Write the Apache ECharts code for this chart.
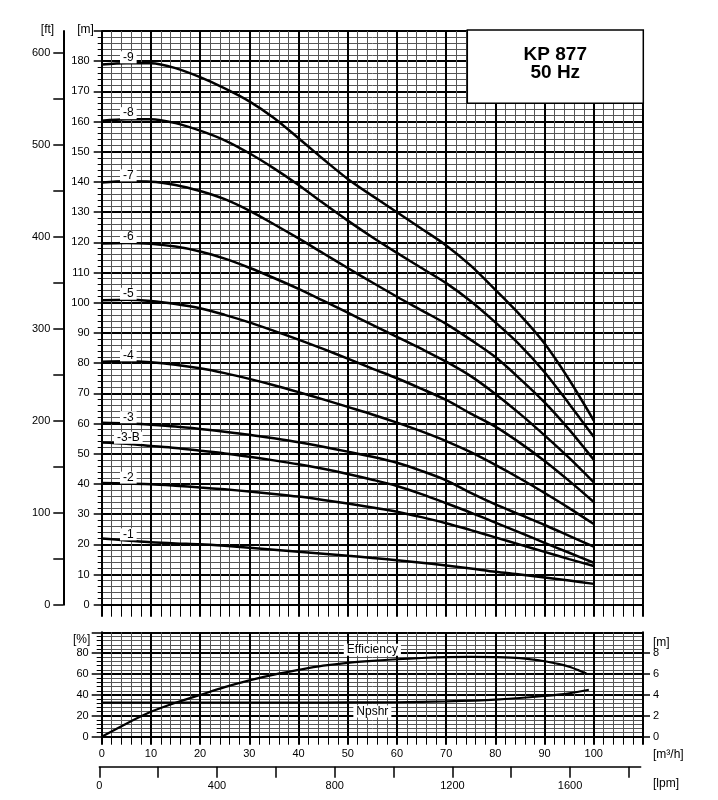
<!DOCTYPE html>
<html><head><meta charset="utf-8">
<script src="https://cdn.jsdelivr.net/npm/echarts@6/dist/echarts.min.js"></script>
<style>html,body{margin:0;padding:0;background:#fff}#c{width:718px;height:800px}</style>
</head><body><div id="c"></div>
<script>
// ---- data ----
const flowQ = [0,5,10,15,20,25,30,35,40,45,50,55,60,65,70,75,80,85,90,95,100]; // m3/h
const head9  = [178.9,179.3,179.3,177.7,174.7,171,166.7,161.2,154.5,147.6,141,135.4,130,124.5,119,112.3,104.3,96,86.5,74.5,61];
const head8  = [160.3,160.8,160.8,159.5,157,153.8,149.5,144.5,139,133,127.2,121.7,116.5,111.5,106.5,100.5,93.5,86,77,66.5,55.6];
const head7  = [139.8,140.2,140.1,139,137,134.3,130.5,126,121.3,116.4,111.5,106.7,102,97.5,93,87.7,82,74.8,67,58,48];
const head6  = [119.6,119.8,119.5,118.6,117,114.6,111.6,108.2,104.6,100.7,96.7,92.7,88.7,84.7,80.5,75.7,69.8,63.2,56.1,48.6,40.5];
const head5  = [100.8,101,100.6,99.6,98.2,96,93.5,90.7,87.8,84.7,81.5,78.2,75,71.5,67.8,63.3,59,53.6,47.6,41,34];
const head4  = [80.5,80.6,80.3,79.5,78.3,76.7,74.8,72.7,70.4,68,65.5,63,60.3,57.4,54.2,50.5,46.3,41.8,37,32,26.7];
const head3  = [60.3,60.1,59.6,59,58.2,57.3,56.3,55.1,53.8,52.3,50.7,49,47,44.3,41.2,37,33.2,29.8,26.4,22.8,19.2];
const head3B = [53.7,53.3,52.6,51.9,51,50.1,49,47.8,46.5,45,43.3,41.4,39.3,36.6,33.6,30.5,27.2,23.9,20.5,17.2,13.9];
const head2  = [40.3,40.1,39.9,39.4,38.8,38.2,37.5,36.7,35.8,34.7,33.5,32.2,30.8,29,27,24.7,22.3,19.9,17.5,15.1,12.8];
const head1  = [21.9,21.3,20.7,20.3,20,19.5,18.9,18.2,17.5,16.9,16.2,15.5,14.7,13.9,13,12,10.9,10,9,8,6.9];
const curveNames = ['-9','-8','-7','-6','-5','-4','-3','-3-B','-2','-1'];

const effQ    = [0,5,10,15,20,25,30,35,40,45,50,55,60,65,70,75,80,85,90,93,95,97,98.5];
const effVals = [0,12.5,23.8,32.5,40,47.5,54,59.5,64,68,70.8,72.7,74.2,75.4,76.2,76.5,76.2,75.2,72.3,69.5,67,63.5,60.5]; // %
const npshQ    = [0,10,20,30,40,50,60,70,80,90,95,99];
const npshVals = [3.27,3.27,3.27,3.27,3.27,3.28,3.3,3.38,3.55,3.9,4.15,4.5]; // m

const ftTicks  = [0,50,100,150,200,250,300,350,400,450,500,550,600];
const ftLabels = [0,100,200,300,400,500,600];
const lpmTicks  = [0,200,400,600,800,1000,1200,1400,1600,1800];
const lpmLabels = [0,400,800,1200,1600];
const npshTicks = [0,2,4,6,8];

// ---- chart ----
const FONT = 'Liberation Sans, Arial, Helvetica, sans-serif';
const chart = echarts.init(document.getElementById('c'), null, {renderer:'canvas'});
const heads = [head9, head8, head7, head6, head5, head4, head3, head3B, head2, head1];

const black = '#000', minorCol = '#555';
const txt = {color:'#000', fontSize:11, fontFamily:FONT};
const tagTxt = {color:'#000', fontSize:12, fontFamily:FONT, opacity:1};
const hiddenItem = {color:'transparent', opacity:1};

const series = heads.map((h) => ({
  type:'line', xAxisIndex:0, yAxisIndex:0, silent:true,
  data: flowQ.map((q, j) => [q, h[j]]),
  showSymbol:false, symbol:'none', smooth:0.3, z:3,
  lineStyle:{color:black, width:2.5}
}));
series.push({
  type:'scatter', xAxisIndex:0, yAxisIndex:0, silent:true, symbolSize:1, z:10,
  itemStyle:hiddenItem,
  data: heads.map((h, i) => ({name: curveNames[i], value:[flowQ[1], h[1]]})),
  label:{show:true, formatter:'{b}', position:'inside', offset:[2,-6],
         backgroundColor:'#fff', padding:[0,3], ...tagTxt}
});
series.push({
  type:'line', xAxisIndex:1, yAxisIndex:2, silent:true,
  data: effQ.map((q, j) => [q, effVals[j]]),
  showSymbol:false, symbol:'none', smooth:0.3, z:3,
  lineStyle:{color:black, width:2.2}
});
series.push({
  type:'line', xAxisIndex:1, yAxisIndex:3, silent:true,
  data: npshQ.map((q, j) => [q, npshVals[j]]),
  showSymbol:false, symbol:'none', smooth:0.3, z:3,
  lineStyle:{color:black, width:2.2}
});
const effIdx = effQ.indexOf(55), npIdx = npshQ.indexOf(50);
series.push({
  type:'scatter', xAxisIndex:1, yAxisIndex:2, silent:true, symbolSize:1, z:10,
  itemStyle:hiddenItem,
  data:[{name:'Efficiency', value:[effQ[effIdx], effVals[effIdx]]}],
  label:{show:true, formatter:'{b}', position:'inside', offset:[0,-11],
         backgroundColor:'#fff', padding:[0,3], ...tagTxt}
});
series.push({
  type:'scatter', xAxisIndex:1, yAxisIndex:3, silent:true, symbolSize:1, z:10,
  itemStyle:hiddenItem,
  data:[{name:'Npshr', value:[55, npshVals[npIdx]]}],
  label:{show:true, formatter:'{b}', position:'inside', offset:[0,9],
         backgroundColor:'#fff', padding:[0,3], ...tagTxt}
});

const flowAxisBase = {
  type:'value', min:0, max:110, interval:10,
  axisLine:{show:true, onZero:false, lineStyle:{color:black, width:2}},
  splitLine:{show:true, lineStyle:{color:black, width:2}},
  minorSplitLine:{show:true, lineStyle:{color:minorCol, width:1}}
};

const option = {
  animation:false,
  backgroundColor:'#fff',
  textStyle:{fontFamily:FONT},
  grid:[
    {left:101.7, top:31, width:541.3, height:573.7},
    {left:101.7, top:632.3, width:541.3, height:104.4},
    {left:99.3, top:765.7, width:541.4, height:1}
  ],
  xAxis:[
    Object.assign({}, flowAxisBase, {
      gridIndex:0, position:'bottom',
      axisTick:{show:true, length:12, lineStyle:{color:black, width:2}},
      minorTick:{show:true, splitNumber:5, length:12, lineStyle:{color:black, width:1}},
      axisLabel:{show:false}
    }),
    Object.assign({}, flowAxisBase, {
      gridIndex:1, position:'bottom',
      axisTick:{show:true, length:8, lineStyle:{color:black, width:2}},
      minorTick:{show:true, splitNumber:5, length:8, lineStyle:{color:black, width:1}},
      axisLabel:{margin:12, ...txt, formatter:(v) => v > 100 ? '' : String(v)}
    }),
    {
      type:'value', gridIndex:2, position:'bottom', min:0, max:1840,
      axisLine:{show:true, onZero:false, lineStyle:{color:black, width:1.5}},
      axisTick:{show:true, customValues:lpmTicks, length:11, lineStyle:{color:black, width:1.5}},
      axisLabel:{customValues:lpmLabels, margin:14, ...txt, formatter:(v) => String(v)},
      splitLine:{show:false}
    }
  ],
  yAxis:[
    {
      type:'value', gridIndex:0, position:'left', min:0, max:190, interval:10,
      axisLine:{show:true, onZero:false, lineStyle:{color:black, width:2}},
      axisTick:{show:true, length:8, lineStyle:{color:black, width:1.5}},
      minorTick:{show:true, splitNumber:5, length:4, lineStyle:{color:black, width:1}},
      axisLabel:{margin:12, ...txt, formatter:(v) => v > 180 ? '' : String(v)},
      splitLine:{show:true, lineStyle:{color:black, width:2}},
      minorSplitLine:{show:true, lineStyle:{color:minorCol, width:1}}
    },
    {
      type:'value', gridIndex:0, position:'left', offset:38.4, min:0, max:190*3.28084,
      axisLine:{show:true, onZero:false, lineStyle:{color:black, width:2}},
      axisTick:{show:true, customValues:ftTicks, length:10, lineStyle:{color:black, width:1.5}},
      axisLabel:{customValues:ftLabels, margin:13, ...txt, formatter:(v) => String(v)},
      splitLine:{show:false}
    },
    {
      type:'value', gridIndex:1, position:'left', min:0, max:100, interval:20,
      axisLine:{show:true, onZero:false, lineStyle:{color:black, width:2}},
      axisTick:{show:true, length:10, lineStyle:{color:black, width:1.5}},
      minorTick:{show:true, splitNumber:5, length:5, lineStyle:{color:black, width:1}},
      axisLabel:{margin:13, ...txt, formatter:(v) => v > 80 ? '' : String(v)},
      splitLine:{show:true, lineStyle:{color:black, width:2}},
      minorSplitLine:{show:true, lineStyle:{color:minorCol, width:1}}
    },
    {
      type:'value', gridIndex:1, position:'right', min:0, max:10, interval:2,
      axisLine:{show:true, onZero:false, lineStyle:{color:black, width:2}},
      axisTick:{show:true, customValues:npshTicks, length:7, lineStyle:{color:black, width:1.5}},
      axisLabel:{customValues:npshTicks, margin:10, ...txt},
      splitLine:{show:false}
    },
    {
      type:'value', gridIndex:2, min:0, max:1, show:false
    }
  ],
  graphic:[
    {type:'rect', z:100, shape:{x:467.3, y:30, width:176, height:73.3},
     style:{fill:'#fff', stroke:'#000', lineWidth:1.5}},
    {type:'text', z:101, x:555.3, y:55, style:{text:'KP 877', font:'bold 19px ' + FONT, fill:'#000', align:'center', verticalAlign:'middle'}},
    {type:'text', z:101, x:555.3, y:73, style:{text:'50 Hz', font:'bold 19px ' + FONT, fill:'#000', align:'center', verticalAlign:'middle'}},
    {type:'text', x:47.5, y:29.5, style:{text:'[ft]', font:'12px ' + FONT, fill:'#000', align:'center', verticalAlign:'middle'}},
    {type:'text', x:85.5, y:29.5, style:{text:'[m]', font:'12px ' + FONT, fill:'#000', align:'center', verticalAlign:'middle'}},
    {type:'text', x:81.7, y:640, style:{text:'[%]', font:'12px ' + FONT, fill:'#000', align:'center', verticalAlign:'middle'}},
    {type:'text', x:653, y:642.7, style:{text:'[m]', font:'12px ' + FONT, fill:'#000', align:'left', verticalAlign:'middle'}},
    {type:'text', x:653, y:755, style:{text:'[m³/h]', font:'12px ' + FONT, fill:'#000', align:'left', verticalAlign:'middle'}},
    {type:'text', x:653, y:783.5, style:{text:'[lpm]', font:'12px ' + FONT, fill:'#000', align:'left', verticalAlign:'middle'}}
  ],
  series: series
};
chart.setOption(option);
</script>
</body></html>
